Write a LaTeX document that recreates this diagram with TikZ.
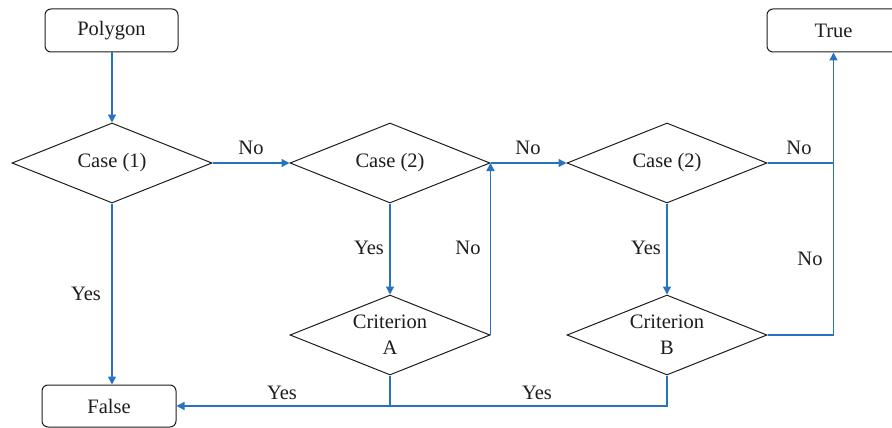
\documentclass[tikz,border=0pt]{standalone}
\usepackage{fontspec}
\setmainfont{Liberation Serif}
\usetikzlibrary{shapes.geometric,arrows.meta}
\definecolor{flowblue}{RGB}{40,115,192}
\definecolor{ink}{RGB}{30,28,28}
\begin{document}
\begin{tikzpicture}[x=1pt,y=-1pt,
  every node/.style={font=\fontsize{20.5}{26}\selectfont, text=ink},
  termbox/.style={draw=ink, line width=1pt, rounded corners=6pt, minimum width=133pt, minimum height=43pt, inner sep=0pt},
  decbox/.style={draw=ink, line width=1pt, diamond, aspect=2.5, minimum width=200pt, minimum height=80pt, inner sep=0pt, align=center},
  conn/.style={draw=flowblue, line width=1.4pt},
  arr/.style={conn, -{Triangle[length=8pt,width=8pt]}},
  lbl/.style={inner sep=0pt}
]
\useasboundingbox (0,0) rectangle (892,428);
\node[termbox] (poly) at (111.5,30.5) {Polygon};
\node[termbox] (true) at (833.5,30.5) {True};
\node[termbox, minimum height=42pt, minimum width=134pt] (false) at (109,406) {False};
\node[decbox] (c1) at (112,163) {Case (1)};
\node[decbox] (c2a) at (390,163) {Case (2)};
\node[decbox] (c2b) at (667,163) {Case (2)};
\node[decbox] (ca) at (390,335) {Criterion\\A};
\node[decbox] (cb) at (667,335) {Criterion\\B};

\draw[arr] (poly.south -| c1.north) -- (c1.north);
\draw[arr] (c1.east) -- (c2a.west);
\draw[arr] (c2a.east) -- (c2b.west);
\draw[conn] (c2b.east) -- (c2b.east -| true.south);
\draw[arr] (cb.east) -| (true.south);
\draw[arr] (c2a.south) -- (ca.north);
\draw[arr] (c2b.south) -- (cb.north);
\draw[arr] (ca.east) -- (c2a.east);
\draw[arr] (c1.south) -- (c1.south |- false.north);
\draw[conn] (ca.south) -- (ca.south |- false.east);
\draw[arr] (cb.south) |- (false.east);

\node[lbl] (n1) at (251,148) {No};
\node[lbl] (n2) at (528,148) {No};
\node[lbl] (n3) at (799,148) {No};
\node[lbl] (y1) at (369,248) {Yes};
\node[lbl] (n4) at (468,248) {No};
\node[lbl] (y2) at (646,248) {Yes};
\node[lbl] (n5) at (810,259) {No};
\node[lbl] (y3) at (86,294) {Yes};
\node[lbl] (y4) at (282,393) {Yes};
\node[lbl] (y5) at (537,393) {Yes};
\end{tikzpicture}
\end{document}
